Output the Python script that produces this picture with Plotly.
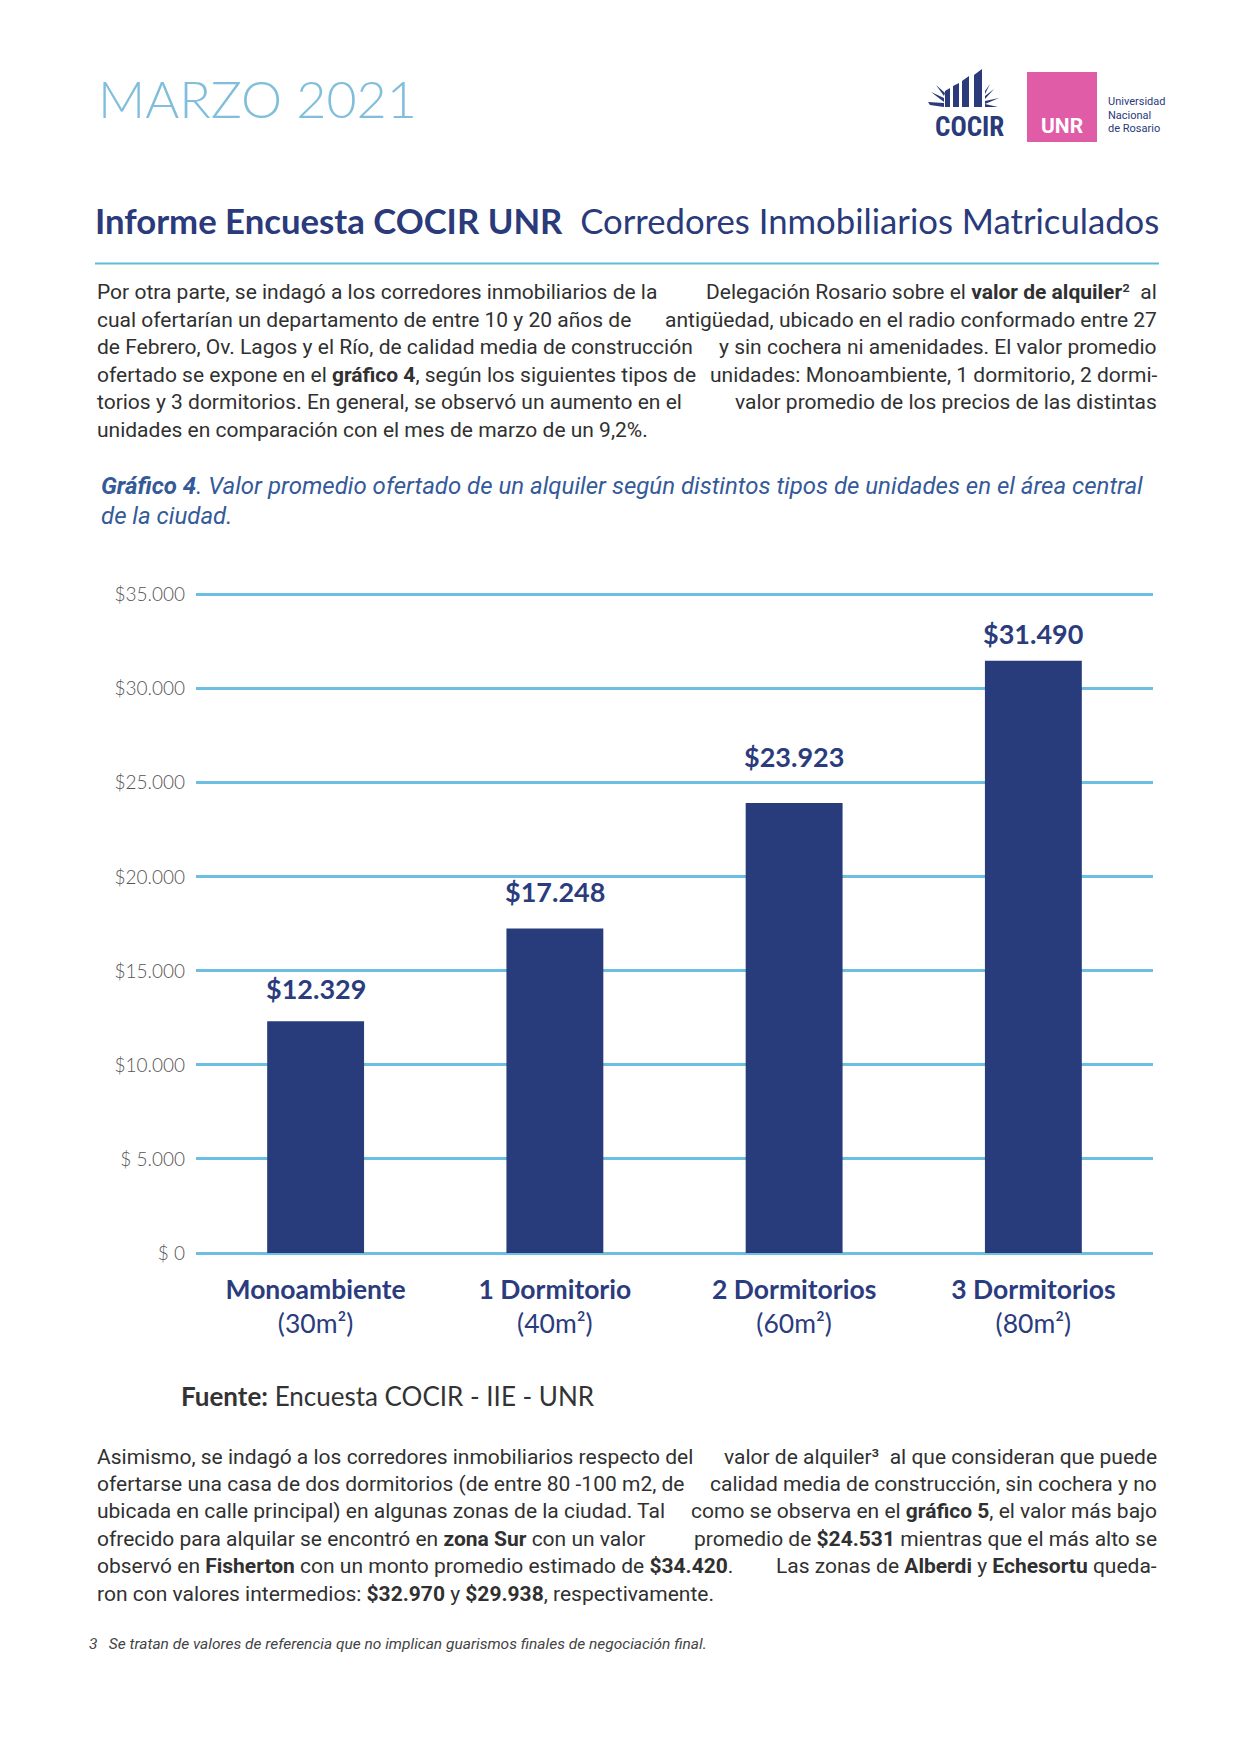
import plotly.graph_objects as go

# ---------------- data ----------------
categories = ["Monoambiente", "1 Dormitorio", "2 Dormitorios", "3 Dormitorios"]
surfaces = ["(30m²)", "(40m²)", "(60m²)", "(80m²)"]
values = [12329, 17248, 23923, 31490]
y_tickvals = [0, 5000, 10000, 15000, 20000, 25000, 30000, 35000]
y_ticktext = ["$ 0", "$ 5.000", "$10.000", "$15.000", "$20.000", "$25.000", "$30.000", "$35.000"]

para1 = [
    "Por otra parte, se indagó a los corredores inmobiliarios de la||Delegación Rosario sobre el <b>valor de alquiler</b>²  al",
    "cual ofertarían un departamento de entre 10 y 20 años de||antigüedad, ubicado en el radio conformado entre 27",
    "de Febrero, Ov. Lagos y el Río, de calidad media de construcción||y sin cochera ni amenidades. El valor promedio",
    "ofertado se expone en el <b>gráfico 4</b>, según los siguientes tipos de||unidades: Monoambiente, 1 dormitorio, 2 dormi-",
    "torios y 3 dormitorios. En general, se observó un aumento en el||valor promedio de los precios de las distintas",
    "unidades en comparación con el mes de marzo de un 9,2%.",
]
para2 = [
    "Asimismo, se indagó a los corredores inmobiliarios respecto del||valor de alquiler³  al que consideran que puede",
    "ofertarse una casa de dos dormitorios (de entre 80 -100 m2, de||calidad media de construcción, sin cochera y no",
    "ubicada en calle principal) en algunas zonas de la ciudad. Tal||como se observa en el <b>gráfico 5</b>, el valor más bajo",
    "ofrecido para alquilar se encontró en <b>zona Sur</b> con un valor||promedio de <b>$24.531</b> mientras que el más alto se",
    "observó en <b>Fisherton</b> con un monto promedio estimado de <b>$34.420</b>.||Las zonas de <b>Alberdi</b> y <b>Echesortu</b> queda-",
    "ron con valores intermedios: <b>$32.970</b> y <b>$29.938</b>, respectivamente.",
]
caption = ["<b>Gráfico 4</b>. Valor promedio ofertado de un alquiler según distintos tipos de unidades en el área central",
           "de la ciudad."]

# label gaps above bars (styling, pixels) as in the original layout
label_gap = [33, 37, 47, 27]

# ---------------- page geometry ----------------
W, H = 1225, 1700
OFFX = 8
OFFY, HEFF = 14.8, 1683.3  # empirical vertical placement of the figure on the page


def X(p):
    return (p - OFFX) / W


def Y(p):
    return 1 - (p - OFFY) / HEFF


GRID = "#6cbfe2"
BODY = "#303030"
NAVY = "#2a3a7a"

fig = go.Figure()
fig.add_trace(go.Bar(
    x=categories, y=values,
    marker=dict(color="#283b7b", line=dict(width=0)),
    hoverinfo="skip",
))

ticktext_x = [f"<b>{c}</b><br>{s}" for c, s in zip(categories, surfaces)]

annotations = []
for c, v, g in zip(categories, values, label_gap):
    annotations.append(dict(
        x=c, y=v, xref="x", yref="y", text="<b>$" + f"{v:,}".replace(",", ".") + "</b>",
        showarrow=False, yanchor="middle", yshift=g,
        font=dict(family="Lato", size=27, color="#2b3c7e"),
    ))


def txt(x, y, text, size, color, family="Roboto", xanchor="left"):
    annotations.append(dict(
        x=X(x), y=Y(y), xref="paper", yref="paper", text=text, showarrow=False,
        xanchor=xanchor, yanchor="middle", align=xanchor if xanchor != "center" else "center",
        font=dict(family=family, size=size, color=color),
    ))


def paragraph(lines, y0, dy, size, x0=95, x1=1159):
    for i, ln in enumerate(lines):
        y = y0 + i * dy
        if "||" in ln:
            a, b = ln.split("||")
            txt(x0, y, a, size, BODY)
            txt(x1, y, b, size, BODY, xanchor="right")
        else:
            txt(x0, y, ln, size, BODY)


# header
txt(96, 95.5, "MARZO 2021", 52, "#80bedb", family="Lato")
annotations[-1]["font"]["weight"] = 300

# title
txt(93, 217.5, "<b>Informe Encuesta COCIR UNR</b>  Corredores Inmobiliarios Matriculados", 34.7, NAVY, family="Lato")

# paragraphs
paragraph(para1, 290, 27.5, 21)
txt(99, 484, "<i>" + caption[0] + "</i>", 24, "#345a98")
txt(99, 514.3, "<i>" + caption[1] + "</i>", 24, "#345a98")
txt(179, 1396, "<b>Fuente:</b> Encuesta COCIR - IIE - UNR", 26, "#333333", family="Lato")
paragraph(para2, 1457, 27.5, 21)
txt(87, 1645, "<i>3   Se tratan de valores de referencia que no implican guarismos finales de negociación final.</i>",
    15.5, "#444444")

# logos: UNR
txt(1062, 123, "<b>UNR</b>", 21, "white", family="Roboto", xanchor="center")
for i, w in enumerate(["Universidad", "Nacional", "de Rosario"]):
    txt(1106, 99 + i * 13.5, w, 11, NAVY, family="Roboto")
txt(969, 124, "<b>COCIR</b>", 27, NAVY, family="Roboto Condensed, Roboto", xanchor="center")

shapes = [
    dict(type="rect", xref="paper", yref="paper", x0=X(1027), x1=X(1097), y0=Y(139), y1=Y(69),
         fillcolor="#e05ca7", line=dict(width=0), layer="below"),
    dict(type="line", xref="paper", yref="paper", x0=X(95), x1=X(1159), y0=Y(261), y1=Y(261),
         line=dict(color="#5fbcd9", width=2)),
]


def poly(pts):
    d = "M " + " L ".join(f"{X(a):.5f},{Y(b):.5f}" for a, b in pts) + " Z"
    shapes.append(dict(type="path", xref="paper", yref="paper", path=d,
                       fillcolor=NAVY, line=dict(width=0)))


# COCIR icon (stylised buildings and rays)
poly([(974, 72), (982, 66), (982, 104), (974, 104)])
poly([(962, 78), (969, 73), (969, 104), (962, 104)])
poly([(953, 83), (959, 80), (959, 104), (953, 104)])
poly([(945, 88), (950, 85), (950, 104), (945, 104)])
poly([(931, 89), (944, 95), (944, 99)])
poly([(928, 99), (944, 100), (944, 104), (930, 102)])
poly([(936, 82), (945, 90), (944, 93)])
poly([(994, 86), (985, 93), (985, 96)])
poly([(999, 95), (985, 98), (985, 101)])
poly([(998, 104), (985, 101), (985, 104)])
poly([(990, 81), (985, 88), (985, 91)])

YMAX = 35100  # a hair above the top gridline so it is drawn
fig.update_layout(
    width=W, height=H,
    margin=dict(l=0, r=0, t=0, b=0),
    paper_bgcolor="white", plot_bgcolor="white",
    showlegend=False,
    bargap=0.595,
    annotations=annotations,
    shapes=shapes,
    xaxis=dict(
        domain=[X(196), X(1153)],
        tickvals=categories, ticktext=ticktext_x,
        tickfont=dict(family="Lato", size=26.5, color="#2b3c7e"),
        showgrid=False, showline=False, zeroline=False, ticks="",
        ticklabelstandoff=18,
    ),
    yaxis=dict(
        domain=[Y(1253), Y(1253 - 660 * YMAX / 35000)],
        range=[0, YMAX],
        tickvals=y_tickvals, ticktext=y_ticktext,
        tickfont=dict(family="Lato", size=19, color="#555555", weight=300),
        showgrid=True, gridcolor=GRID, gridwidth=3,
        zeroline=True, zerolinecolor=GRID, zerolinewidth=3,
        showline=False, ticks="", ticklabelstandoff=10,
    ),
)

fig.write_html("out.html")
